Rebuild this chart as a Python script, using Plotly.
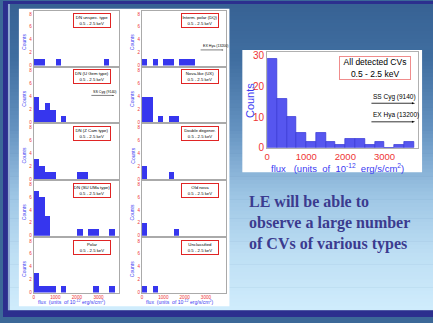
import plotly.graph_objects as go

# ---------------- data ----------------
flux_bins = [0, 250, 500, 750, 1000, 1250, 1500, 1750, 2000, 2250, 2500, 2750, 3000, 3250, 3500]
bin_width = 250

all_cvs      = [29, 16, 10, 5, 2, 5, 2, 1, 3, 3, 1, 2, 0, 1, 2]
dn_unspec    = [1, 1, 0, 0, 1, 0, 0, 0, 0, 0, 0, 0, 0, 1, 0]
dn_ugem      = [4, 2, 3, 2, 0, 1, 0, 0, 0, 0, 0, 0, 0, 0, 0]
dn_zcam      = [3, 2, 1, 1, 0, 0, 0, 0, 1, 1, 0, 0, 0, 0, 0]
dn_suuma     = [7, 6, 3, 0, 0, 0, 0, 0, 1, 0, 1, 1, 0, 0, 1]
polar        = [3, 1, 1, 1, 0, 1, 0, 0, 0, 0, 0, 1, 0, 0, 1]
ip_dq        = [1, 0, 1, 0, 1, 1, 0, 1, 1, 1, 0, 0, 0, 0, 0]
nova_like    = [4, 4, 0, 1, 0, 1, 1, 0, 0, 0, 0, 0, 0, 0, 0]
double_deg   = [2, 0, 0, 0, 0, 1, 0, 0, 0, 0, 0, 0, 0, 0, 0]
old_nova     = [2, 0, 0, 0, 0, 0, 1, 0, 0, 0, 0, 0, 0, 0, 0]
unclassified = [1, 0, 1, 0, 0, 0, 0, 0, 0, 0, 0, 0, 0, 0, 0]

panel_titles = ["DN unspec. type", "DN (U Gem type)", "DN (Z Cam type)", "DN (SU UMa type)", "Polar",
                "Interm. polar (DQ)", "Nova-like (UX)", "Double degener.", "Old nova", "Unclassified"]
panel_series = [dn_unspec, dn_ugem, dn_zcam, dn_suuma, polar,
                ip_dq, nova_like, double_deg, old_nova, unclassified]
energy_band = "0.5 - 2.5 keV"
small_yticks = [0, 2, 4, 6, 8]
small_xticks = [0, 1000, 2000, 3000]
big_yticks = [0, 10, 20, 30]
big_xticks = [0, 1000, 2000, 3000]
slide_text = "LE will be able to<br>observe a large number<br>of CVs of various types"

# ---------------- layout helpers ----------------
W, H = 433, 323
def fx(px):
    return px / W
def fy(py):
    return 1 - py / H

RED = "#ee3535"
BLUE = "#3a3af2"
SANS = "Arial, Liberation Sans, sans-serif"
NBSP = "\u00a0"

fig = go.Figure()
shapes = []
annotations = []
layout = {}

def note(px, py, text, size, color="black", xanchor="center", yanchor="middle", **kw):
    d = dict(xref="paper", yref="paper", x=fx(px), y=fy(py), text=text, showarrow=False,
             xanchor=xanchor, yanchor=yanchor, font=dict(color=color, size=size, family=kw.pop("family", SANS)))
    d.update(kw)
    annotations.append(d)

# background gradient bands
stops = [(3, (55, 98, 148)), (60, (64, 110, 160)), (130, (100, 146, 192)),
         (200, (158, 198, 229)), (260, (190, 223, 244)), (316, (208, 236, 252))]
def grad(y):
    for (y0, c0), (y1, c1) in zip(stops[:-1], stops[1:]):
        if y0 <= y <= y1:
            t = (y - y0) / (y1 - y0)
            return "rgb(%d,%d,%d)" % tuple(round(a + (b - a) * t) for a, b in zip(c0, c1))
    return "rgb(%d,%d,%d)" % stops[-1][1]
nb = 80
for i in range(nb):
    y0 = 3 + i * 313 / nb
    y1 = y0 + 313 / nb + 0.6
    shapes.append(dict(type="rect", xref="paper", yref="paper", layer="below",
                       x0=0, x1=1, y0=fy(y1), y1=fy(y0),
                       fillcolor=grad((y0 + y1) / 2), line=dict(width=0)))
# frame
navy = "#2c2f8e"
shapes += [
    dict(type="rect", xref="paper", yref="paper", layer="below", x0=0, x1=fx(5), y0=0, y1=1,
         fillcolor=navy, line=dict(width=0)),
    dict(type="rect", xref="paper", yref="paper", layer="below", x0=fx(5), x1=fx(7), y0=fy(316), y1=fy(3),
         fillcolor="#8fa9d2", line=dict(width=0)),
    dict(type="rect", xref="paper", yref="paper", layer="below", x0=0, x1=1, y0=fy(3), y1=1,
         fillcolor=navy, line=dict(width=0)),
    dict(type="rect", xref="paper", yref="paper", layer="below", x0=0, x1=1, y0=0, y1=fy(316),
         fillcolor=navy, line=dict(width=0)),
    # white panels
    dict(type="rect", xref="paper", yref="paper", layer="below", x0=fx(16), x1=fx(228), y0=fy(312), y1=fy(8),
         fillcolor="white", line=dict(width=0)),
    dict(type="rect", xref="paper", yref="paper", layer="below", x0=fx(241), x1=fx(422), y0=fy(175), y1=fy(50),
         fillcolor="white", line=dict(width=0)),
]

def arrow(xl, xr, y, head, lw):
    shapes.append(dict(type="line", xref="paper", yref="paper", x0=fx(xl), x1=fx(xr - head),
                       y0=fy(y), y1=fy(y), line=dict(color="black", width=lw)))
    path = "M %f,%f L %f,%f L %f,%f Z" % (fx(xr), fy(y), fx(xr - head * 1.6), fy(y - head * 0.5),
                                         fx(xr - head * 1.6), fy(y + head * 0.5))
    shapes.append(dict(type="path", xref="paper", yref="paper", path=path,
                       fillcolor="black", line=dict(width=0)))

# ---------------- big chart ----------------
fig.add_trace(go.Bar(x=flux_bins, y=all_cvs, width=bin_width, offset=0,
                     marker=dict(color="#5656ef", line=dict(color="#3636d6", width=0.7)),
                     xaxis="x", yaxis="y"))
layout["xaxis"] = dict(domain=[fx(266), fx(418)], range=[0, 3860], anchor="y",
                       showline=True, mirror=True, linecolor="#b0b0b0", linewidth=1,
                       showgrid=False, zeroline=False, tickvals=big_xticks,
                       tickfont=dict(color=RED, size=9.5, family=SANS), ticks="")
layout["yaxis"] = dict(domain=[fy(150), fy(52)], range=[0, 31.3], anchor="x",
                       showline=True, mirror=True, linecolor="#b0b0b0", linewidth=1,
                       showgrid=False, zeroline=False, tickvals=big_yticks,
                       tickfont=dict(color=RED, size=10, family=SANS), ticks="")
note(249, 102, "Counts", 11, BLUE, textangle=-90)
note(268, 170.5, "flux" + NBSP * 3 + "(units" + NBSP * 2 + "of" + NBSP * 2 + "10<sup>-12</sup>" + NBSP * 2 + "erg/s/cm<sup>2</sup>)",
     9.5, BLUE, xanchor="left")
note(375, 68.5, "All detected CVs<br>" + energy_band, 8.5,
     width=70, height=22, bordercolor="#f08c8c", borderwidth=1, borderpad=0, bgcolor="white")
for label, ty, ay in [("SS Cyg (9140)", 98, 104.5), ("EX Hya (13200)", 117, 123.5)]:
    note(371, ty, label, 6.5, xanchor="left")
    arrow(371, 415, ay, 2.0, 0.8)

# ---------------- small panels ----------------
for idx, (series, title) in enumerate(zip(panel_series, panel_titles)):
    col = idx // 5
    row = idx % 5
    n = idx + 2
    x0, x1 = (31, 117) if col == 0 else (140, 225)
    top = 10 + 58 * row
    bot = top + 56
    fig.add_trace(go.Bar(x=flux_bins, y=series, width=bin_width, offset=0,
                         marker=dict(color="#3636ee", line=dict(width=0)),
                         xaxis="x%d" % n, yaxis="y%d" % n))
    layout["xaxis%d" % n] = dict(domain=[fx(x0), fx(x1)], range=[0, 3960], anchor="y%d" % n,
                                 showline=True, mirror=True, linecolor="#aaaaaa", linewidth=1,
                                 showgrid=False, zeroline=False, tickvals=small_xticks,
                                 showticklabels=(row == 4), ticks="",
                                 tickfont=dict(color=RED, size=4.6, family=SANS))
    layout["yaxis%d" % n] = dict(domain=[fy(bot), fy(top)], range=[0, 8.5], anchor="x%d" % n,
                                 showline=True, mirror=True, linecolor="#aaaaaa", linewidth=1,
                                 showgrid=False, zeroline=False, tickvals=small_yticks, ticks="",
                                 tickfont=dict(color=RED, size=4.5, family=SANS))
    note(x0 - 10, (top + bot) / 2 + 4, "Counts", 5, BLUE, textangle=-90)
    note(x1 - 27, top + 9.5, title + "<br>" + energy_band, 4.3,
         width=36, height=13, borderpad=0, borderwidth=1, bordercolor="#e02424", bgcolor="white")
    if row == 4:
        note(x0 + 2, 307.5,
             "flux" + NBSP * 2 + "(units" + NBSP * 2 + "of" + NBSP + "10<sup>-12</sup>" + NBSP + "erg/s/cm<sup>2</sup>)",
             5.1, BLUE, xanchor="left")

# small annotations with arrows
for label, xl, ty, ay, xr in [("SS Cyg (9140)", 89, 93, 96.5, 112), ("EX Hya (13200)", 199, 46.5, 50, 222)]:
    note(xl, ty, label, 3.6, xanchor="left")
    arrow(xl, xr, ay, 1.0, 0.5)

# slide text
note(246, 194.5, "<b>" + slide_text + "</b>", 16, "#3b3b8f", xanchor="left", yanchor="top",
     align="left", family="Liberation Serif, Times New Roman, serif")

fig.update_layout(width=W, height=H, margin=dict(l=0, r=0, t=0, b=0), autosize=False,
                  paper_bgcolor="#3c6898", plot_bgcolor="white", showlegend=False,
                  bargap=0, shapes=shapes, annotations=annotations, **layout)
fig.write_html("out.html", config={"displayModeBar": False},
               post_script="document.body.style.margin='0';document.body.style.overflow='hidden';")
